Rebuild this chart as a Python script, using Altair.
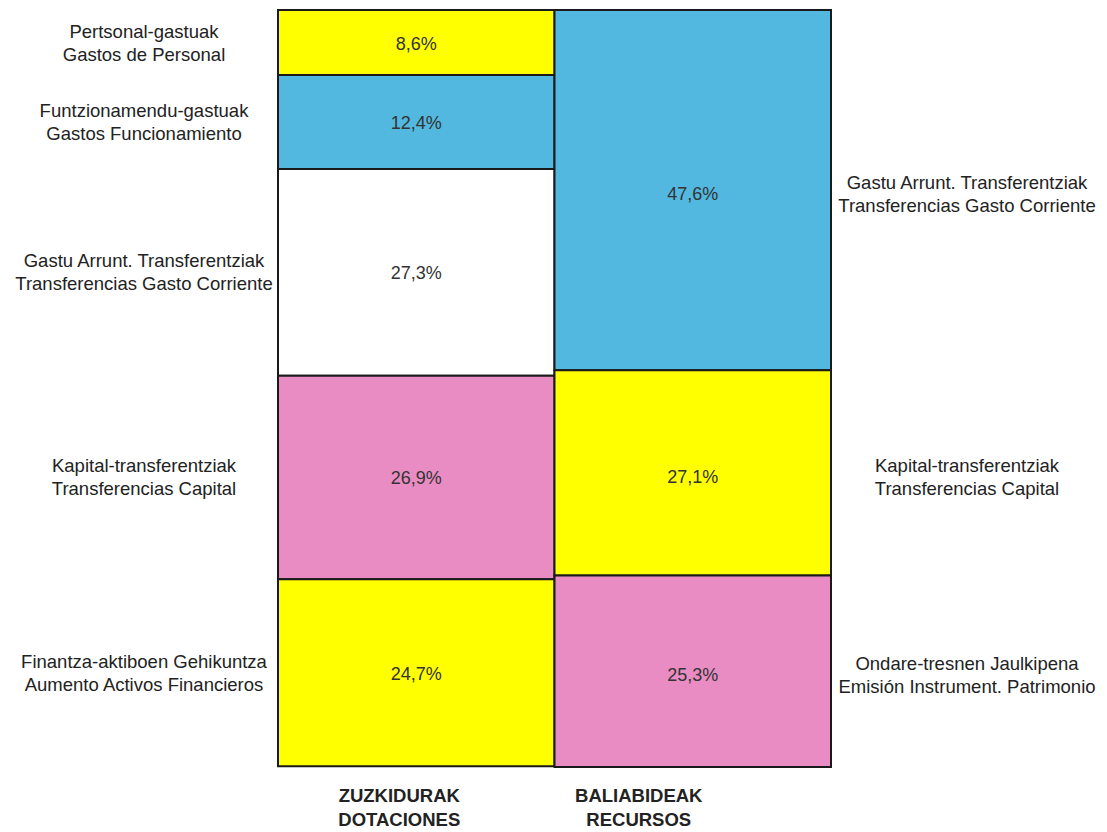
import altair as alt
import pandas as pd

# ---- data ----
columns = ["ZUZKIDURAK|DOTACIONES", "BALIABIDEAK|RECURSOS"]

left_labels = [
    "Pertsonal-gastuak\nGastos de Personal",
    "Funtzionamendu-gastuak\nGastos Funcionamiento",
    "Gastu Arrunt. Transferentziak\nTransferencias Gasto Corriente",
    "Kapital-transferentziak\nTransferencias Capital",
    "Finantza-aktiboen Gehikuntza\nAumento Activos Financieros",
]
left_values = [8.6, 12.4, 27.3, 26.9, 24.7]
left_colors = ["#FFFF00", "#52B8DF", "#FFFFFF", "#E98CC4", "#FFFF00"]

right_labels = [
    "Gastu Arrunt. Transferentziak\nTransferencias Gasto Corriente",
    "Kapital-transferentziak\nTransferencias Capital",
    "Ondare-tresnen Jaulkipena\nEmisión Instrument. Patrimonio",
]
right_values = [47.6, 27.1, 25.3]
right_colors = ["#52B8DF", "#FFFF00", "#E98CC4"]

rows = []
for col, labels, values, colors, side in [
    (columns[0], left_labels, left_values, left_colors, "left"),
    (columns[1], right_labels, right_values, right_colors, "right"),
]:
    start = 0.0
    for i, (lab, v, c) in enumerate(zip(labels, values, colors)):
        rows.append({
            "col": col, "label": lab, "value": v, "color": c, "side": side,
            "y0": start, "y1": start + v, "ymid": start + v / 2,
            "pct": f"{v:.1f}%".replace(".", ","), "key": f"{side}{i}",
        })
        start += v
df = pd.DataFrame(rows)
df_left = df[df.side == "left"]
df_right = df[df.side == "right"]

W, H = 553, 757
FONT = "Liberation Sans"

xscale = alt.Scale(domain=columns, paddingInner=0, paddingOuter=0)
yscale = alt.Scale(domain=[0, 100], reverse=True, nice=False, zero=False)

rects = alt.Chart(df).mark_rect(stroke="#1a1a1a", strokeWidth=2).encode(
    x=alt.X("col:N", scale=xscale, sort=columns,
            axis=alt.Axis(title=None, orient="bottom", domain=False, ticks=False,
                          labelExpr="split(datum.label, '|')", labelAngle=0,
                          labelFont=FONT, labelFontSize=18.5, labelFontWeight="bold",
                          labelColor="#222222", labelPadding=19, labelLineHeight=24,
                          labelOffset=alt.ExprRef(
                              f"datum.value == '{columns[0]}' ? -17 : -54"))),
    y=alt.Y("y0:Q", scale=yscale, axis=None),
    y2="y1:Q",
    fill=alt.Fill("color:N", scale=None),
)


def pct_layer(data, dy):
    return alt.Chart(data).mark_text(font=FONT, fontSize=18, color="#333333", dy=dy).encode(
        x=alt.X("col:N", scale=xscale, sort=columns),
        y=alt.Y("ymid:Q", scale=yscale),
        text="pct:N",
    )


def cat_layer(data, xpos, dy):
    return alt.Chart(data).mark_text(
        font=FONT, fontSize=18.5, color="#222222", lineBreak="\n", lineHeight=23,
        align="center", dy=dy,
    ).encode(
        x=alt.value(xpos),
        y=alt.Y("ymid:Q", scale=yscale),
        text="label:N",
    )


chart = alt.layer(
    rects,
    pct_layer(df_left, 2),
    pct_layer(df_right, 5),
    cat_layer(df_left, -134, -11),
    cat_layer(df_right, W + 136, -7),
).properties(
    width=W, height=H,
    autosize=alt.AutoSizeParams(type="none"),
    padding={"left": 278, "top": 10, "right": 276, "bottom": 65},
    background="white",
).configure_view(stroke=None)

chart.save("out.html", embed_options={"renderer": "svg", "actions": False})
